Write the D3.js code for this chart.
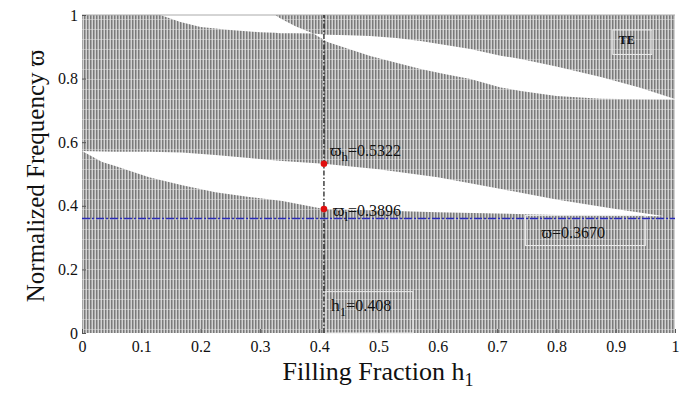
<!DOCTYPE html>
<html>
<head>
<meta charset="utf-8">
<script src="https://cdn.jsdelivr.net/npm/d3@7"></script>
<style>
  body { margin: 0; background: #fff; }
  svg text { font-family: "Liberation Serif", "DejaVu Serif", serif; }
</style>
</head>
<body>
<svg id="chart" width="698" height="394"></svg>
<script>
// band gaps: h1 positions, lower / upper edge of each white gap
const gap1H  = [0.132, 0.166, 0.2, 0.25, 0.3, 0.326, 0.334, 0.36, 0.39];
const gap1Lo = [1.0, 0.978, 0.962, 0.953, 0.946, 0.944, 0.943, 0.943, 0.942];
const gap1Hi = [1.0, 1.0, 1.0, 1.0, 1.0, 1.0, 0.99, 0.965, 0.942];

const gap2H  = [0.39, 0.414, 0.45, 0.486, 0.53, 0.571, 0.613, 0.655, 0.706, 0.74, 0.8, 0.875, 0.94, 1.0];
const gap2Lo = [0.942, 0.915, 0.893, 0.871, 0.85, 0.83, 0.814, 0.799, 0.772, 0.761, 0.745, 0.737, 0.735, 0.734];
const gap2Hi = [0.942, 0.938, 0.936, 0.934, 0.928, 0.918, 0.906, 0.893, 0.872, 0.862, 0.838, 0.805, 0.772, 0.736];

const gap3H  = [0, 0.034, 0.056, 0.113, 0.169, 0.225, 0.282, 0.338, 0.408, 0.5, 0.6, 0.7, 0.8, 0.9, 0.98];
const gap3Lo = [0.572, 0.538, 0.525, 0.49, 0.465, 0.443, 0.428, 0.415, 0.3896, 0.385, 0.38, 0.376, 0.371, 0.369, 0.367];
const gap3Hi = [0.572, 0.571, 0.57, 0.57, 0.568, 0.56, 0.55, 0.541, 0.5322, 0.515, 0.49, 0.455, 0.42, 0.39, 0.368];

const hMark = 0.408;
const wHigh = 0.5322, wLow = 0.3896;
const wLine = 0.36;   // drawn position of the blue line (label says 0.3670)

const xTicks = [0, 0.1, 0.2, 0.3, 0.4, 0.5, 0.6, 0.7, 0.8, 0.9, 1];
const yTicks = [0, 0.2, 0.4, 0.6, 0.8, 1];

const svg = d3.select("#chart");
const x = d3.scaleLinear().domain([0, 1]).range([82, 675]);
const y = d3.scaleLinear().domain([0, 1]).range([333, 15]);

// hatch pattern for the pass bands
const defs = svg.append("defs");
const pat = defs.append("pattern")
  .attr("id", "hatch")
  .attr("patternUnits", "userSpaceOnUse")
  .attr("width", 3).attr("height", 10);
pat.append("rect").attr("width", 3).attr("height", 10).attr("fill", "#d2d2d2");
pat.append("rect").attr("width", 1.5).attr("height", 10).attr("fill", "#7a7a7a");
pat.append("rect").attr("y", 9).attr("width", 3).attr("height", 1).attr("fill", "#e4e4e4").attr("opacity", 0.5);

svg.append("rect")
  .attr("x", x(0)).attr("y", y(1))
  .attr("width", x(1) - x(0)).attr("height", y(0) - y(1))
  .attr("fill", "url(#hatch)");

// white gaps
const gaps = [[gap1H, gap1Lo, gap1Hi], [gap2H, gap2Lo, gap2Hi], [gap3H, gap3Lo, gap3Hi]];
const area = d3.area()
  .x(d => x(d[0])).y0(d => y(d[1])).y1(d => y(d[2]));
gaps.forEach(g => {
  const pts = g[0].map((h, i) => [h, g[1][i], g[2][i]]);
  svg.append("path").attr("d", area(pts)).attr("fill", "#fff");
});

// top edge line
svg.append("line")
  .attr("x1", x(0)).attr("x2", x(1)).attr("y1", y(1)).attr("y2", y(1))
  .attr("stroke", "#aaa").attr("stroke-width", 1);

// label boxes (thin white frames)
const boxes = [
  { x0: 0.895, x1: 0.961, y0: 0.953, y1: 0.876 },   // TE
  { x0: 0.748, x1: 0.95, y0: 0.37, y1: 0.275 },     // w=0.3670
  { x0: 0.41, x1: 0.558, y0: 0.13, y1: 0.0 }        // h1=0.408
];
svg.selectAll(".box").data(boxes).join("rect")
  .attr("class", "box")
  .attr("x", d => x(d.x0)).attr("y", d => y(d.y0))
  .attr("width", d => x(d.x1) - x(d.x0)).attr("height", d => y(d.y1) - y(d.y0))
  .attr("fill", "none").attr("stroke", "#ededed").attr("stroke-width", 1);

// blue dash-dot line
svg.append("line")
  .attr("x1", x(0)).attr("x2", x(1)).attr("y1", y(wLine)).attr("y2", y(wLine))
  .attr("stroke", "#2a2ab8").attr("stroke-width", 1.6)
  .attr("stroke-dasharray", "8,2,2,2");

// vertical dash-dot line at h1
svg.append("line")
  .attr("x1", x(hMark)).attr("x2", x(hMark)).attr("y1", y(0)).attr("y2", y(1))
  .attr("stroke", "#111").attr("stroke-width", 1.2)
  .attr("stroke-dasharray", "5,2,1.5,2");

// red markers
svg.selectAll(".dot").data([wHigh, wLow]).join("circle")
  .attr("class", "dot")
  .attr("cx", x(hMark)).attr("cy", d => y(d)).attr("r", 3.3)
  .attr("fill", "#e01010");

// annotations
function sublabel(px, py, main, sub, rest, size) {
  const t = svg.append("text").attr("x", px).attr("y", py)
    .attr("font-size", size).attr("fill", "#111");
  t.append("tspan").attr("font-size", size * 1.1).text(main);
  t.append("tspan").attr("dy", 5).attr("font-size", size * 0.8).text(sub);
  t.append("tspan").attr("dy", -5).text(rest);
}
sublabel(x(hMark) + 6, y(wHigh) - 8, "\u03D6", "h", "=0.5322", 16);
sublabel(x(hMark) + 9, y(wLow) + 7, "\u03D6", "l", "=0.3896", 16);
svg.append("text").attr("x", x(0.775)).attr("y", y(0.3))
  .attr("font-size", 16).attr("fill", "#111").text("\u03D6=0.3670");
sublabel(x(0.42), y(0.068), "h", "1", "=0.408", 16);
svg.append("text").attr("x", x(0.905)).attr("y", y(0.91))
  .attr("font-size", 12).attr("font-weight", "bold").attr("fill", "#111").text("TE");

// axes
const xAxis = d3.axisBottom(x).tickValues(xTicks).tickSize(-4).tickPadding(8)
  .tickFormat(d => d3.format("")(d));
const gx = svg.append("g").attr("transform", `translate(0,${y(0)})`).call(xAxis);
gx.select(".domain").remove();
gx.selectAll("line").attr("stroke", "#555");
gx.selectAll("text").attr("font-size", 16).attr("fill", "#111")
  .attr("font-family", "Liberation Serif, serif");

const yAxis = d3.axisLeft(y).tickValues(yTicks).tickSize(-4).tickPadding(4)
  .tickFormat(d => d3.format("")(d));
const gy = svg.append("g").attr("transform", `translate(${x(0)},0)`).call(yAxis);
gy.select(".domain").remove();
gy.selectAll("line").attr("stroke", "#555");
gy.selectAll("text").attr("font-size", 16).attr("fill", "#111")
  .attr("font-family", "Liberation Serif, serif");

// axis titles
const xt = svg.append("text").attr("x", 378).attr("y", 380)
  .attr("text-anchor", "middle").attr("font-size", 26).attr("fill", "#111");
xt.append("tspan").text("Filling Fraction h");
xt.append("tspan").attr("dy", 6).attr("font-size", 18).text("1");

svg.append("text")
  .attr("transform", "translate(44,176) rotate(-90)")
  .attr("text-anchor", "middle").attr("font-size", 25).attr("fill", "#111")
  .text("Normalized Frequency  \u03D6");
</script>
</body>
</html>
